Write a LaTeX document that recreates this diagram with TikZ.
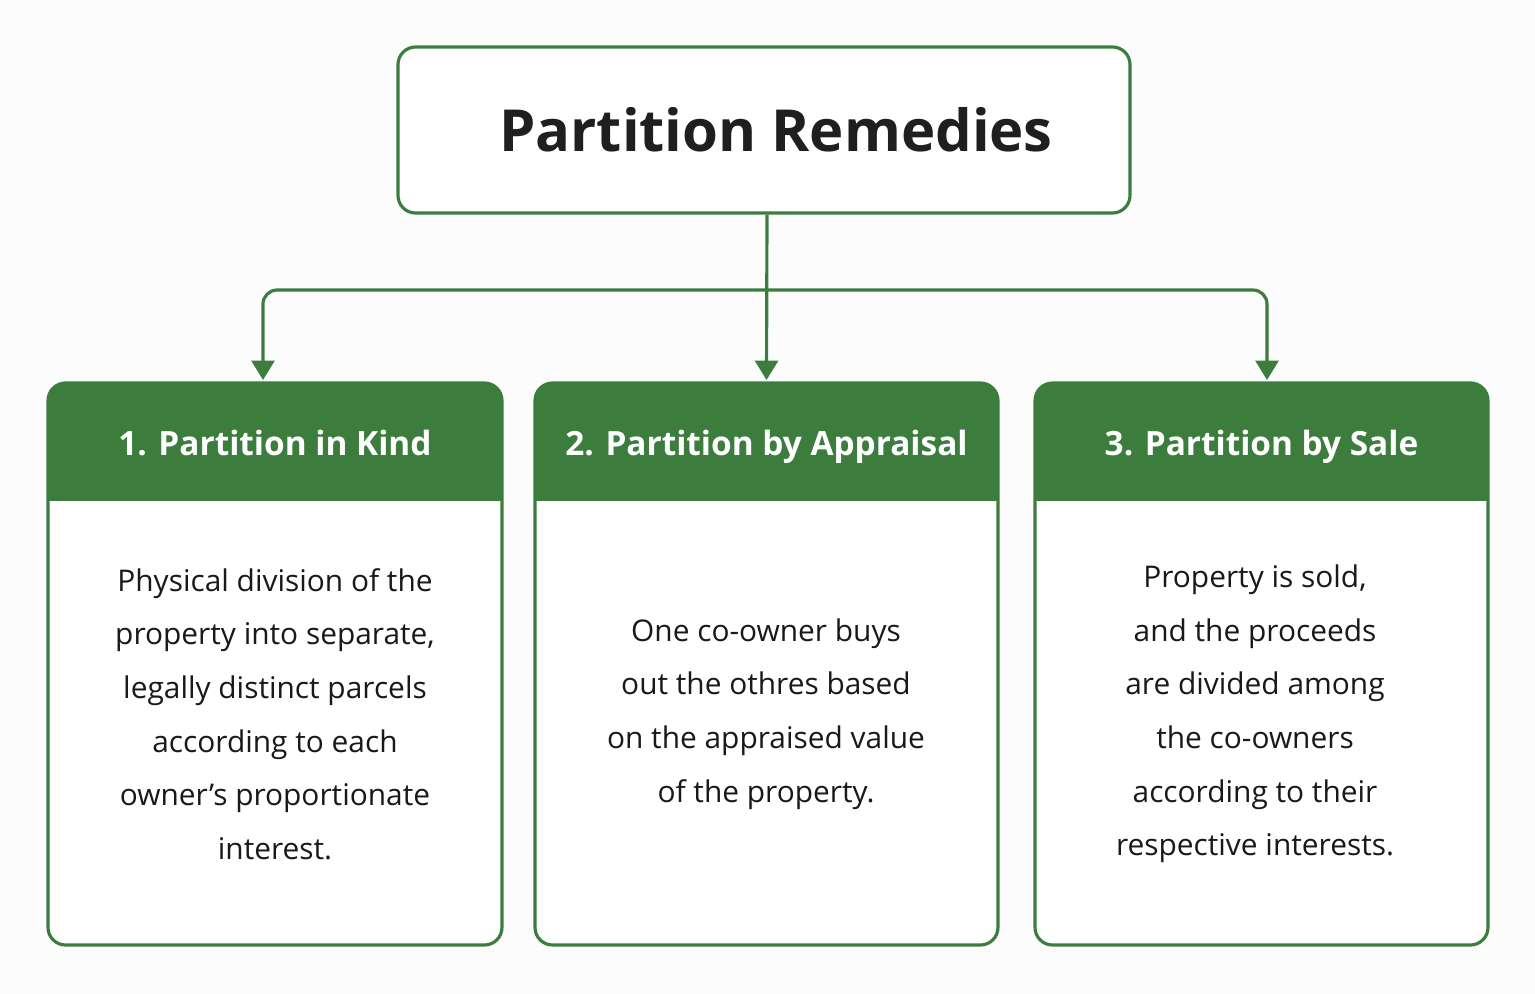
\documentclass[tikz,border=0pt]{standalone}
\usepackage{fontspec}
\setmainfont{Open Sans}
\usetikzlibrary{arrows.meta}
\definecolor{gr}{HTML}{3C7D3E}
\begin{document}
\begin{tikzpicture}[x=0.02cm,y=-0.02cm,
  box/.style={draw=gr,line width=1.8pt,rounded corners=10pt},
  conn/.style={gr,line width=1.8pt,rounded corners=8pt,-{Triangle[length=11pt,width=13pt]}},
  body/.style={align=center,font=\fontsize{17}{30.5}\selectfont,text=black!90},
  head/.style={font=\bfseries\fontsize{19}{22}\selectfont,text=white,anchor=base}]
\useasboundingbox (0,0) rectangle (1535,994);
\fill[white!99!black] (0,0) rectangle (1535,994);
\node[box,fill=white,minimum width=732*0.02cm,minimum height=166*0.02cm] (top) at (764,130) {};
\node[font=\bfseries\fontsize{33}{38}\selectfont,text=black!88] (title) at (776,130) {Partition Remedies};
\foreach \n/\a/\b in {1/48/502,2/535/998,3/1035/1488}{
  \fill[gr,rounded corners=10pt] (\a,383) rectangle (\b,500);
  \fill[gr] (\a,470) rectangle (\b,501);
  \fill[white,rounded corners=10pt] (\a,501) rectangle (\b,945);
  \fill[white] (\a,501) rectangle (\b,520);
  \draw[box] (\a,383) rectangle (\b,945);
  \coordinate (h\n) at ({(\a+\b)/2},455);
  \coordinate (in\n) at ({(\a+\b)/2},380);
}
\node[head] (t1) at (h1) {1. Partition in Kind};
\node[head] (t2) at (h2) {2. Partition by Appraisal};
\node[head] (t3) at (h3) {3. Partition by Sale};
\node[body] (b1) at (275,714) {Physical division of the\\property into separate,\\legally distinct parcels\\according to each\\owner’s proportionate\\interest.};
\node[body] (b2) at (766,714) {One co-owner buys\\out the othres based\\on the appraised value\\of the property.};
\node[body] (b3) at (1255,714) {Property is sold,\\and the proceeds\\are divided among\\the co-owners\\according to their\\respective interests.};
\coordinate (j) at (767,290);
\draw[conn,rounded corners=0pt] (top.south -| j) -- (in2);
\draw[conn] (j) -- (263,290) -- (263,380);
\draw[conn] (j) -- (1267,290) -- (1267,380);
\end{tikzpicture}
\end{document}
